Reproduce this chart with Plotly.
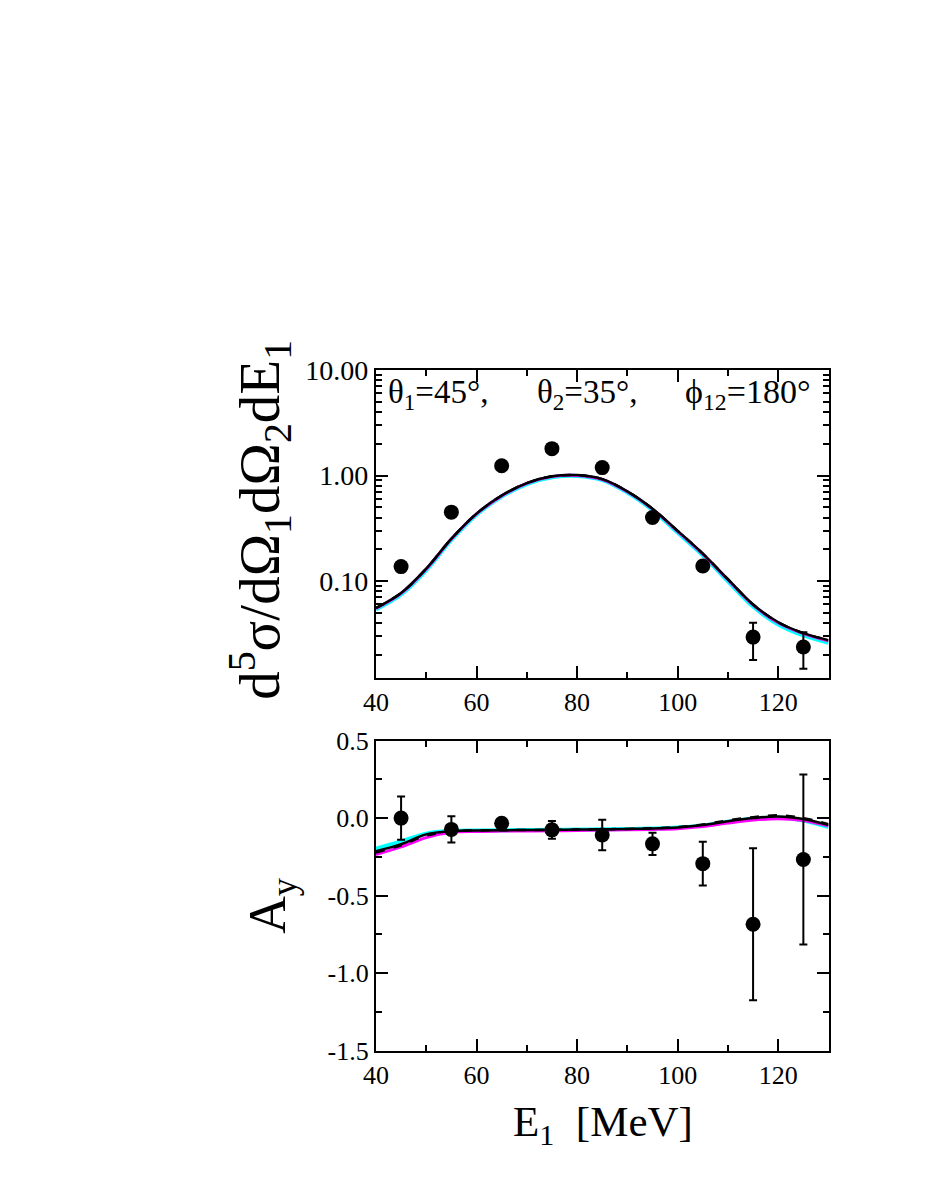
import plotly.graph_objects as go

# ---------------- data ----------------
# experimental points (energy E1 in MeV)
E_data = [45, 55, 65, 75, 85, 95, 105, 115, 125]
xs_data = [0.137, 0.45, 1.24, 1.80, 1.19, 0.40, 0.139, 0.0294, 0.0237]
xs_err_plus = [0.0, 0.0, 0.0, 0.0, 0.0, 0.0, 0.0, 0.0109, 0.0090]
xs_err_minus = [0.0, 0.0, 0.0, 0.0, 0.0, 0.0, 0.0, 0.0116, 0.0090]

ay_data = [0.0, -0.073, -0.033, -0.076, -0.109, -0.166, -0.294, -0.685, -0.267]
ay_err = [0.14, 0.085, 0.02, 0.057, 0.098, 0.072, 0.141, 0.49, 0.548]

# theory curves
E_curve = [40, 45, 50, 55, 60, 65, 70, 75, 80, 85, 90, 95, 100, 105, 110, 115, 120, 125, 130]

xs_black = [0.0555, 0.077, 0.131, 0.252, 0.436, 0.647, 0.849, 0.984, 1.01, 0.925, 0.708,
            0.485, 0.299, 0.182, 0.104, 0.060, 0.0407, 0.0321, 0.0275]
xs_dashed = [0.0555, 0.077, 0.131, 0.252, 0.436, 0.647, 0.849, 0.984, 1.01, 0.925, 0.708,
             0.485, 0.299, 0.182, 0.104, 0.060, 0.0407, 0.0321, 0.0275]
xs_magenta = [0.0550, 0.0763, 0.130, 0.250, 0.433, 0.642, 0.843, 0.977, 1.003, 0.918, 0.703,
              0.481, 0.296, 0.180, 0.103, 0.0594, 0.0402, 0.0317, 0.0271]
xs_cyan = [0.0538, 0.0745, 0.127, 0.245, 0.425, 0.632, 0.830, 0.962, 0.99, 0.905, 0.690,
           0.470, 0.288, 0.175, 0.0995, 0.0573, 0.0388, 0.0305, 0.0260]

ay_black = [-0.214, -0.168, -0.105, -0.084, -0.080, -0.078, -0.077, -0.076, -0.074, -0.072,
            -0.070, -0.067, -0.060, -0.045, -0.020, 0.000, 0.011, -0.006, -0.045]
ay_dashed = [-0.222, -0.175, -0.113, -0.085, -0.080, -0.078, -0.077, -0.076, -0.074, -0.072,
             -0.070, -0.066, -0.058, -0.042, -0.015, 0.006, 0.018, 0.000, -0.040]
ay_magenta = [-0.235, -0.186, -0.126, -0.092, -0.086, -0.084, -0.083, -0.082, -0.080, -0.078,
              -0.076, -0.073, -0.068, -0.055, -0.032, -0.013, -0.004, -0.015, -0.050]
ay_cyan = [-0.197, -0.150, -0.100, -0.083, -0.080, -0.078, -0.077, -0.076, -0.074, -0.072,
           -0.070, -0.067, -0.061, -0.047, -0.023, -0.004, 0.004, -0.016, -0.058]

xs_tickvals = [0.1, 1, 10]
xs_ticktext = ["0.10", "1.00", "10.00"]
xs_minor_vals = [0.02, 0.03, 0.04, 0.05, 0.06, 0.07, 0.08, 0.09,
                 0.2, 0.3, 0.4, 0.5, 0.6, 0.7, 0.8, 0.9,
                 2, 3, 4, 5, 6, 7, 8, 9]
ay_tickvals = [-1.5, -1.0, -0.5, 0.0, 0.5]
ay_ticktext = ["-1.5", "-1.0", "-0.5", "0.0", "0.5"]
e_tickvals = [40, 60, 80, 100, 120]

# ---------------- figure ----------------
W, H = 926, 1199
OFF = 8  # default page body margin


def px(x):
    return (x - OFF) / W


def py(y):
    return 1 - (y - OFF) / H


fig = go.Figure()

curve_styles = [
    ("cyan", 4, "solid"),
    ("magenta", 3, "solid"),
    ("black", 2.5, "solid"),
    ("black", 2.5, "dash"),
]

for vals, (col, wd, dash) in zip([xs_cyan, xs_magenta, xs_black, xs_dashed], curve_styles):
    fig.add_trace(go.Scatter(x=E_curve, y=vals, mode="lines", line=dict(color=col, width=wd, dash=dash, shape="spline"),
                             xaxis="x", yaxis="y", hoverinfo="skip"))

fig.add_trace(go.Scatter(x=E_data, y=xs_data, mode="markers",
                         marker=dict(color="black", size=15),
                         error_y=dict(type="data", symmetric=False, array=xs_err_plus, arrayminus=xs_err_minus,
                                      color="black", thickness=2, width=4),
                         xaxis="x", yaxis="y"))

for vals, (col, wd, dash) in zip([ay_cyan, ay_magenta, ay_black, ay_dashed], curve_styles):
    fig.add_trace(go.Scatter(x=E_curve, y=vals, mode="lines", line=dict(color=col, width=wd, dash=dash, shape="spline"),
                             xaxis="x2", yaxis="y2", hoverinfo="skip"))

fig.add_trace(go.Scatter(x=E_data, y=ay_data, mode="markers",
                         marker=dict(color="black", size=15),
                         error_y=dict(type="data", array=ay_err, color="black", thickness=2, width=4),
                         xaxis="x2", yaxis="y2"))


def axis_common(fs):
    return dict(showline=True, linewidth=2, linecolor="black", mirror="allticks",
                ticks="inside", ticklen=12, tickwidth=2, tickcolor="black",
                showgrid=False, zeroline=False,
                tickfont=dict(family="Liberation Serif", size=fs, color="black"))


minor_common = dict(ticks="inside", ticklen=6, tickwidth=2, tickcolor="black")

xdom = [px(368), px(827)]

fig.update_layout(
    width=W, height=H,
    margin=dict(l=0, r=0, t=0, b=0),
    paper_bgcolor="white", plot_bgcolor="white",
    showlegend=False,
    font=dict(family="Liberation Serif", color="black"),
    xaxis=dict(domain=xdom, range=[40, 130], tickvals=e_tickvals,
               minor=dict(tickvals=[50, 70, 90, 110, 130], **minor_common),
               anchor="y", **axis_common(26)),
    yaxis=dict(domain=[py(680), py(364)], type="log", range=[-1.921, 1.0],
               tickvals=xs_tickvals, ticktext=xs_ticktext,
               minor=dict(tickvals=xs_minor_vals, **minor_common),
               anchor="x", **axis_common(28)),
    xaxis2=dict(domain=xdom, range=[40, 130], tickvals=e_tickvals,
                minor=dict(tickvals=[50, 70, 90, 110, 130], **minor_common),
                anchor="y2", **axis_common(26)),
    yaxis2=dict(domain=[py(1062), py(744)], range=[-1.5, 0.5], tickvals=ay_tickvals, ticktext=ay_ticktext,
                minor=dict(tickvals=[-1.25, -0.75, -0.25, 0.25], **minor_common),
                anchor="x2", **axis_common(26)),
)

ann_font = dict(family="Liberation Serif", color="black")
annotations = [
    dict(text="θ<sub>1</sub>=45°,", x=px(378), y=py(389), xanchor="left", yanchor="middle",
         font=dict(size=33, **ann_font)),
    dict(text="θ<sub>2</sub>=35°,", x=px(529), y=py(389), xanchor="left", yanchor="middle",
         font=dict(size=33, **ann_font)),
    dict(text="ϕ<sub>12</sub>=180°", x=px(679), y=py(389), xanchor="left", yanchor="middle",
         font=dict(size=34, **ann_font)),
    dict(text="d<sup>5</sup>σ/dΩ<sub>1</sub>dΩ<sub>2</sub>dE<sub>1</sub>", x=px(250), y=py(518),
         xanchor="center", yanchor="middle", textangle=-90, font=dict(size=57, **ann_font)),
    dict(text="A<sub>y</sub>", x=px(262), y=py(913), xanchor="center", yanchor="middle", textangle=-90,
         font=dict(size=52, **ann_font)),
    dict(text="E<sub>1</sub>  [MeV]", x=px(598), y=py(1138), xanchor="center", yanchor="middle",
         font=dict(size=43, **ann_font)),
]
for a in annotations:
    a.update(xref="paper", yref="paper", showarrow=False)
fig.update_layout(annotations=annotations)

fig.write_html("out.html")
